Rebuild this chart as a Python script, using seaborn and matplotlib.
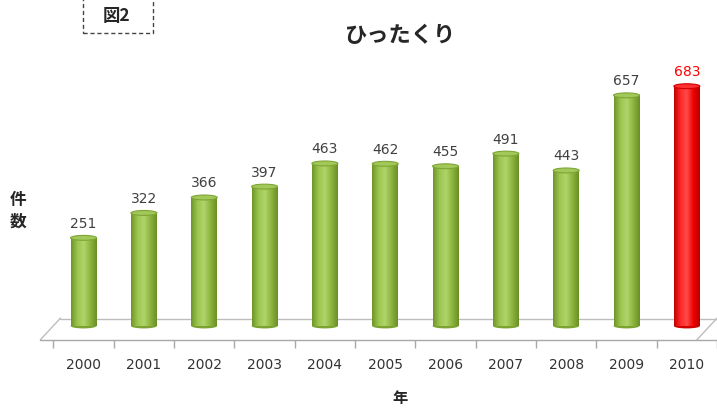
import seaborn as sns
import pandas as pd
import numpy as np
import matplotlib.pyplot as plt
from matplotlib.patches import Ellipse, Rectangle
from matplotlib.colors import LinearSegmentedColormap

years = ["2000", "2001", "2002", "2003", "2004", "2005", "2006", "2007", "2008", "2009", "2010"]
counts = [251, 322, 366, 397, 463, 462, 455, 491, 443, 657, 683]
highlight = "2010"

green = "#8DB43F"
red = "#FF0000"

df = pd.DataFrame({"year": years, "count": counts})
df["hl"] = np.where(df["year"] == highlight, "hl", "base")

sns.set_theme(style="white")
plt.rcParams["font.family"] = ["Noto Sans CJK JP", "DejaVu Sans"]
num_font = ["DejaVu Sans"]

fig = plt.figure(figsize=(7.17, 4.19), dpi=100)
ax = fig.add_axes([0.056, 0.1885, 0.944, 0.687])

sns.barplot(data=df, x="year", y="count", hue="hl", palette={"base": green, "hl": red},
            width=0.43, legend=False, dodge=False, saturation=1, ax=ax)

cm_green = LinearSegmentedColormap.from_list("g", ["#6E9628", "#9CC650", "#B0D46A", "#8DB43F", "#6A8F25"])
cm_red = LinearSegmentedColormap.from_list("r", ["#C00000", "#FF2A2A", "#FF4A4A", "#F00000", "#B80000"])
grad = np.linspace(0, 1, 64).reshape(1, -1)

# cylinder look: horizontal shading, elliptical caps
for bar, hl in zip(ax.patches, df["hl"]):
    h = bar.get_height()
    is_red = hl == "hl"
    x0, w = bar.get_x(), bar.get_width()
    cx = x0 + w / 2
    im = ax.imshow(grad, extent=[x0, x0 + w, 0, h], aspect="auto",
                   cmap=cm_red if is_red else cm_green, zorder=2)
    im.set_clip_path(bar)
    bar.set_edgecolor("none")
    cap = Ellipse((cx, h), w, 14, facecolor="#FF3030" if is_red else "#A2C85A",
                  edgecolor="#D00000" if is_red else "#7FA535", linewidth=0.8, zorder=3)
    ax.add_patch(cap)
    bottom = Ellipse((cx, 0), w, 14, facecolor="#D00000" if is_red else "#7CA332",
                     edgecolor="none", zorder=1.9)
    ax.add_patch(bottom)
    ax.text(cx, h + 20, f"{int(round(h))}", ha="center", va="bottom", fontsize=10,
            family=num_font, color=red if is_red else "#404040")

ax.set_ylim(-40, 780)
ax.set_xlim(-0.72, 10.5)
ax.set_yticks([])
ax.set_xlabel("")
ax.set_ylabel("")
for s in ["top", "right", "left"]:
    ax.spines[s].set_visible(False)
ax.spines["bottom"].set_color("#A8A8A8")
ax.spines["bottom"].set_linewidth(1.0)

# floor of the 3D plot area
ax.axhline(20, xmin=0.03, xmax=1.0, color="#BDBDBD", linewidth=1.0, zorder=0)
ax.plot([0.0, 0.03], [0.0, 0.076], transform=ax.transAxes, color="#BDBDBD", lw=1.0, zorder=0)
ax.plot([0.97, 1.0], [0.0, 0.076], transform=ax.transAxes, color="#BDBDBD", lw=1.0, zorder=0)

ax.set_xticks(range(len(years)))
ax.set_xticklabels(years, fontsize=10, color="#333333", family=num_font)
ax.tick_params(axis="x", which="major", bottom=False, length=0, pad=13)
ax.set_xticks(np.arange(-0.5, len(years) - 0.4, 1), minor=True)
ax.tick_params(axis="x", which="minor", bottom=True, length=6, color="#A8A8A8", width=1,
               direction="out")

fig.text(0.558, 0.915, "ひったくり", ha="center", va="center", fontsize=16, fontweight="bold")
fig.text(0.025, 0.497, "件\n数", ha="center", va="center", fontsize=12, fontweight="bold",
         linespacing=1.3)
fig.text(0.558, 0.05, "年", ha="center", va="center", fontsize=11, fontweight="bold")

# dashed label box "図2" (top edge runs off the image)
fig.patches.append(Rectangle((0.1158, 0.921), 0.0976, 0.1, transform=fig.transFigure,
                             facecolor="white", edgecolor="#444444", linestyle=(0, (3, 2)),
                             linewidth=1, zorder=5))
fig.text(0.163, 0.962, "図2", ha="center", va="center", fontsize=12.5, fontweight="bold",
         zorder=6)

fig.savefig("out.png", dpi=100)
